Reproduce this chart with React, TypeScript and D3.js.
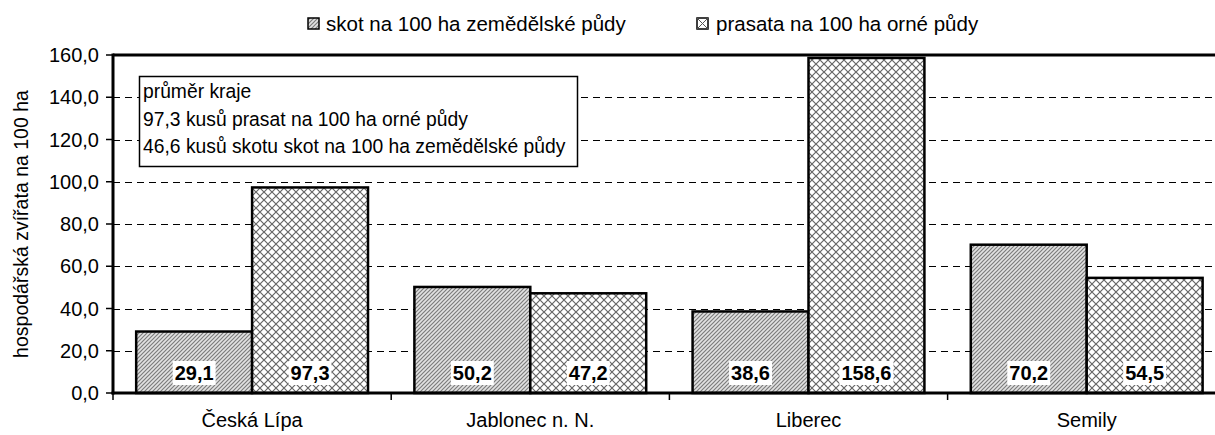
import React from "react";
import * as d3 from "d3";

const categories = ["Česká Lípa", "Jablonec n. N.", "Liberec", "Semily"];
const seriesNames = ["skot na 100 ha zemědělské půdy", "prasata na 100 ha orné půdy"];
const skotValues = [29.1, 50.2, 38.6, 70.2];
const prasataValues = [97.3, 47.2, 158.6, 54.5];
const yTicks = [0, 20, 40, 60, 80, 100, 120, 140, 160];
const yTitle = "hospodářská zvířata na 100 ha";
const noteLines = [
  "průměr kraje",
  "97,3 kusů prasat na 100 ha orné půdy",
  "46,6 kusů skotu skot na 100 ha zemědělské půdy",
];

const W = 1215;
const H = 435;
const FONT = "'Liberation Sans', Arial, Helvetica, sans-serif";

const fmt = (v: number) => d3.format(".1f")(v).replace(".", ",");

function boldWidth(s: string, size: number) {
  let w = 0;
  for (const ch of s) w += ch === "," || ch === "." ? 0.278 : 0.556;
  return w * size;
}

export default function App() {
  const left = 113;
  const catW = 278.2;
  const top = 55;
  const bottom = 393;

  const x0 = d3.scaleBand<string>().domain(categories).range([left, left + catW * categories.length]).padding(0);
  const x1 = d3.scaleBand<number>().domain([0, 1]).range([0, x0.bandwidth()]).paddingInner(0).paddingOuter(0.2);
  const y = d3.scaleLinear().domain([0, 160]).range([bottom, top]);
  const right = left + catW * categories.length;

  const data = [skotValues, prasataValues];
  const fills = ["url(#hatchSkot)", "url(#hatchPrasata)"];

  return (
    <svg
      width={W}
      height={H}
      style={{ position: "absolute", left: 0, top: 0, display: "block", background: "#fff" }}
      fontFamily={FONT}
    >
      <defs>
        <pattern id="hatchSkot" patternUnits="userSpaceOnUse" width="4" height="4">
          <rect width="4" height="4" fill="#e2e2e2" />
          <path d="M-1,1 l2,-2 M0,4 l4,-4 M3,5 l2,-2" stroke="#7c7c7c" strokeWidth="1.2" />
        </pattern>
        <pattern id="hatchPrasata" patternUnits="userSpaceOnUse" width="8" height="8">
          <rect width="8" height="8" fill="#fff" />
          <path d="M0,0 L8,8 M8,0 L0,8" stroke="#666" strokeWidth="1.2" />
        </pattern>
      </defs>

      {/* legend */}
      <g fontSize={20.5}>
        <rect x={308} y={18} width={11} height={11} fill="url(#hatchSkot)" stroke="#000" strokeWidth={1.5} />
        <text x={326} y={31}>{seriesNames[0]}</text>
        <rect x={697} y={18} width={11} height={11} fill="#fff" stroke="#000" strokeWidth={1.5} />
        <path d="M697,18 L708,29 M708,18 L697,29" stroke="#555" strokeWidth={1} />
        <text x={716} y={31}>{seriesNames[1]}</text>
      </g>

      {/* gridlines */}
      {yTicks.filter((t) => t > 0 && t < 160).map((t) => (
        <line key={t} x1={left} x2={right} y1={Math.round(y(t)) + 0.5} y2={Math.round(y(t)) + 0.5} stroke="#000" strokeWidth={1} strokeDasharray="7,5" />
      ))}

      {/* note box */}
      <rect x={139.5} y={76.5} width={438} height={90} fill="#fff" stroke="#000" strokeWidth={1.5} />
      <g fontSize={19.3}>
        {noteLines.map((l, i) => (
          <text key={i} x={143} y={98 + i * 27.5}>{l}</text>
        ))}
      </g>

      {/* bars */}
      {categories.map((c, ci) => (
        <g key={c}>
          {data.map((vals, si) => {
            const bx = (x0(c) as number) + (x1(si) as number);
            const bw = x1.bandwidth();
            const by = y(vals[ci]);
            return (
              <rect key={si} x={bx} y={by} width={bw} height={bottom - by} fill={fills[si]} stroke="#000" strokeWidth={2.5} />
            );
          })}
        </g>
      ))}

      {/* data labels */}
      {categories.map((c, ci) => (
        <g key={c + "l"}>
          {data.map((vals, si) => {
            const cx = (x0(c) as number) + (x1(si) as number) + x1.bandwidth() / 2;
            const label = fmt(vals[ci]);
            const tw = boldWidth(label, 20);
            return (
              <g key={si}>
                <rect x={cx - tw / 2 - 2} y={361} width={tw + 4} height={24} fill="#fff" />
                <text x={cx} y={380} textAnchor="middle" fontWeight="bold" fontSize={20}>{label}</text>
              </g>
            );
          })}
        </g>
      ))}

      {/* axes */}
      <line x1={left} x2={right} y1={top} y2={top} stroke="#000" strokeWidth={3} />
      <line x1={left} x2={left} y1={top - 1.5} y2={bottom + 1.5} stroke="#000" strokeWidth={3} />
      <line x1={left - 1.5} x2={right} y1={bottom} y2={bottom} stroke="#000" strokeWidth={3} />

      {yTicks.map((t) => (
        <g key={"yt" + t}>
          <line x1={left - 7} x2={left} y1={y(t)} y2={y(t)} stroke="#000" strokeWidth={1.5} />
          <text x={99} y={y(t)} dy="0.35em" textAnchor="end" fontSize={20}>{fmt(t)}</text>
        </g>
      ))}

      {categories.map((c, ci) => (
        <line key={"xt" + ci} x1={(x0(c) as number)} x2={(x0(c) as number)} y1={bottom} y2={bottom + 7} stroke="#000" strokeWidth={1.5} />
      ))}
      {categories.map((c) => (
        <text key={"xl" + c} x={(x0(c) as number) + x0.bandwidth() / 2} y={427} textAnchor="middle" fontSize={20}>{c}</text>
      ))}

      <text transform={`translate(28, ${(top + bottom) / 2}) rotate(-90)`} textAnchor="middle" fontSize={19.5}>{yTitle}</text>
    </svg>
  );
}
